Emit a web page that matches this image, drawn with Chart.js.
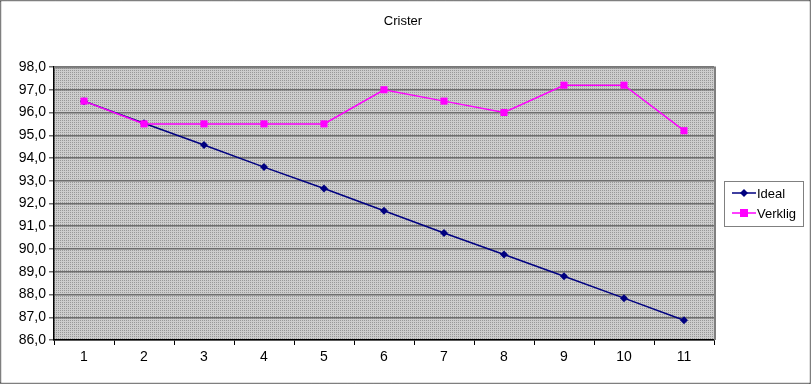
<!DOCTYPE html>
<html>
<head>
<meta charset="utf-8">
<script src="https://cdn.jsdelivr.net/npm/chart.js@4"></script>
<style>
  body { margin: 0; background: #fff; }
  canvas { display: block; }
</style>
</head>
<body>
<canvas id="chart" width="811" height="384"></canvas>
<script>
let labels = ["1", "2", "3", "4", "5", "6", "7", "8", "9", "10", "11"];
let ideal = [96.5, 95.53, 94.57, 93.6, 92.66, 91.68, 90.7, 89.76, 88.8, 87.84, 86.87];
let verklig = [96.5, 95.5, 95.5, 95.5, 95.5, 97.0, 96.5, 96.0, 97.2, 97.2, 95.2];
let chartTitle = "Crister";

let font = "'Liberation Sans', Arial, sans-serif";

// dotted grey fill like the old excel plot area
function makePattern(ctx) {
    var c = document.createElement("canvas");
    c.width = 2; c.height = 2;
    var p = c.getContext("2d");
    p.fillStyle = "#cdcdcd";
    p.fillRect(0, 0, 2, 2);
    p.fillStyle = "#989898";
    p.fillRect(0, 0, 1, 1);
    return ctx.createPattern(c, "repeat");
}

let excelLook = {
    id: "excelLook",
    beforeDraw(chart) {
        let ctx = chart.ctx;
        let a = chart.chartArea;
        ctx.save();
        ctx.fillStyle = makePattern(ctx);
        ctx.fillRect(a.left, a.top, a.right - a.left, a.bottom - a.top);
        ctx.restore();
    },
    afterDraw(chart) {
        let ctx = chart.ctx;
        let a = chart.chartArea;
        ctx.save();
        // plot border top/right
        ctx.strokeStyle = "#808080";
        ctx.lineWidth = 2;
        ctx.beginPath();
        ctx.moveTo(a.left, a.top + 0.5);
        ctx.lineTo(a.right + 1, a.top + 0.5);
        ctx.lineTo(a.right + 1, a.bottom);
        ctx.stroke();

        // title
        ctx.fillStyle = "#000";
        ctx.font = "13px " + font;
        ctx.textAlign = "center";
        ctx.textBaseline = "middle";
        ctx.fillText(chartTitle, 403, 21);

        // legend box
        let lx = 724, ly = 181, lw = 79, lh = 45;
        ctx.setLineDash([1, 1]);
        ctx.strokeStyle = "#000";
        ctx.lineWidth = 1;
        ctx.strokeRect(lx + 0.5, ly + 0.5, lw, lh);
        ctx.setLineDash([]);
        let items = chart.data.datasets;
        items.forEach(function(ds, i) {
            let y = ly + 12 + i * 20;
            ctx.strokeStyle = ds.borderColor;
            ctx.lineWidth = 1.5;
            ctx.beginPath();
            ctx.moveTo(lx + 8, y);
            ctx.lineTo(lx + 32, y);
            ctx.stroke();
            ctx.fillStyle = ds.backgroundColor;
            if (ds.pointStyle === "rect") {
                ctx.fillRect(lx + 20 - 4, y - 4, 8, 8);
            } else {
                ctx.beginPath();
                ctx.moveTo(lx + 20, y - 4);
                ctx.lineTo(lx + 24, y);
                ctx.lineTo(lx + 20, y + 4);
                ctx.lineTo(lx + 16, y);
                ctx.closePath();
                ctx.fill();
            }
            ctx.fillStyle = "#000";
            ctx.font = "13px " + font;
            ctx.textAlign = "left";
            ctx.fillText(ds.label, lx + 33, y + 1);
        });

        // dotted outer frame
        ctx.setLineDash([1, 1]);
        ctx.strokeStyle = "#000";
        ctx.strokeRect(0.5, 0.5, 810, 383);
        ctx.restore();
    }
};

var ctx = document.getElementById("chart");
var chart = new Chart(ctx, {
    type: "line",
    data: {
        labels: labels,
        datasets: [
            {
                label: "Ideal",
                data: ideal,
                order: 1,
                borderColor: "#000080",
                backgroundColor: "#000080",
                borderWidth: 1.5,
                pointStyle: "rectRot",
                pointRadius: 4,
                pointBorderWidth: 0,
                tension: 0
            },
            {
                label: "Verklig",
                data: verklig,
                order: 0,
                borderColor: "#ff00ff",
                backgroundColor: "#ff00ff",
                borderWidth: 1.5,
                pointStyle: "rect",
                pointRadius: 5,
                pointBorderWidth: 0,
                tension: 0
            }
        ]
    },
    options: {
        responsive: false,
        animation: false,
        layout: { padding: { top: 67, right: 97, left: 0, bottom: 0 } },
        plugins: {
            legend: { display: false },
            title: { display: false },
            tooltip: { enabled: false }
        },
        scales: {
            x: {
                offset: true,
                afterFit: function(s) { s.height = 44; },
                grid: {
                    offset: true,
                    drawOnChartArea: false,
                    drawTicks: true,
                    tickLength: 5,
                    color: "#000"
                },
                border: { color: "#000", width: 1.5 },
                ticks: {
                    color: "#000",
                    padding: 4,
                    font: { family: font, size: 14 }
                }
            },
            y: {
                min: 86,
                max: 98,
                afterFit: function(s) { s.width = 54; },
                grid: {
                    color: "#6e6e6e",
                    lineWidth: 1.5,
                    drawTicks: true,
                    tickLength: 5
                },
                border: { color: "#000", width: 1.5 },
                ticks: {
                    stepSize: 1,
                    color: "#000",
                    padding: 3,
                    font: { family: font, size: 14 },
                    callback: function(v) { return v.toFixed(1).replace(".", ","); }
                }
            }
        }
    },
    plugins: [excelLook]
});
</script>
</body>
</html>
